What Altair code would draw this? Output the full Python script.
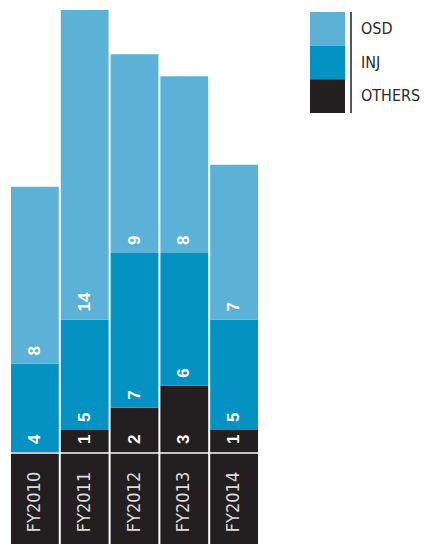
import altair as alt
import pandas as pd

years = ["FY2010", "FY2011", "FY2012", "FY2013", "FY2014"]
series = ["OTHERS", "INJ", "OSD"]
others = [0, 1, 2, 3, 1]
inj = [4, 5, 7, 6, 5]
osd = [8, 14, 9, 8, 7]
colors = ["#231f20", "#0392c2", "#5bb2d6"]
legend_order = ["OSD", "INJ", "OTHERS"]

rows = []
for i, yr in enumerate(years):
    for k, (s, vals) in enumerate(zip(series, [others, inj, osd])):
        rows.append({"year": yr, "series": s, "order": k, "value": vals[i]})
df = pd.DataFrame(rows)

NARROW = "DejaVu Sans Condensed, sans-serif"

xscale = alt.Scale(domain=years, paddingInner=0.04, paddingOuter=0.02)
yscale = alt.Scale(domain=[0, 20], nice=False)
color_scale = alt.Scale(domain=series, range=colors)

base = alt.Chart(df).transform_stack(
    stack="value", groupby=["year"], as_=["y0", "y1"], sort=[alt.SortField("order")]
)

bars = base.mark_rect().encode(
    x=alt.X("year:N", scale=xscale, axis=None),
    y=alt.Y("y0:Q", scale=yscale, axis=None),
    y2="y1:Q",
    color=alt.Color("series:N", scale=color_scale, legend=None),
)

labels = base.transform_filter("datum.value > 0").mark_text(
    angle=270, align="left", baseline="middle", dx=8,
    font="Liberation Sans, Arial, sans-serif", fontSize=17, fontWeight="bold", color="white",
).encode(
    x=alt.X("year:N", scale=xscale, axis=None),
    y=alt.Y("y0:Q", scale=yscale, axis=None),
    text="value:Q",
)

main = alt.layer(bars, labels).properties(width=249, height=442)

ydf = pd.DataFrame({"year": years})
bx = alt.X("year:N", scale=xscale, axis=None)
gray_line = alt.Chart(ydf).mark_rect(color="#c4c4c4").encode(
    x=bx, y=alt.value(0), y2=alt.value(2)
)
dark_box = alt.Chart(ydf).mark_rect(color="#231f20").encode(
    x=bx, y=alt.value(2), y2=alt.value(92)
)
year_text = alt.Chart(ydf).mark_text(
    angle=270, align="center", baseline="middle", font=NARROW, fontSize=18, color="#dcdcdc"
).encode(x=bx, y=alt.value(50), text="year:N")
bottom = alt.layer(gray_line, dark_box, year_text).properties(width=249, height=92)

ldf = pd.DataFrame({"series": legend_order})
ly = alt.Y("series:N", sort=legend_order,
           scale=alt.Scale(domain=legend_order, paddingInner=0, paddingOuter=0.06), axis=None)
lsq = alt.Chart(ldf).mark_rect().encode(
    x=alt.value(0), x2=alt.value(35), y=ly,
    color=alt.Color("series:N", scale=color_scale, legend=None),
)
lrule = alt.Chart(ldf).mark_rule(color="#555555", strokeWidth=1.5).encode(
    x=alt.value(41), y=alt.value(2), y2=alt.value(103)
)
ltext = alt.Chart(ldf).mark_text(
    align="left", baseline="middle", font=NARROW, fontSize=16, color="#2a2a2a"
).encode(x=alt.value(51), y=ly, text="series:N")
legend = alt.layer(lsq, lrule, ltext).properties(width=100, height=105)

chart = alt.hconcat(
    alt.vconcat(main, bottom, spacing=0), legend, spacing=51
).properties(
    padding={"left": 2, "top": 2, "right": 0, "bottom": 0}
).configure_view(stroke=None)

chart.save("out.html", embed_options={"renderer": "svg", "actions": False})
